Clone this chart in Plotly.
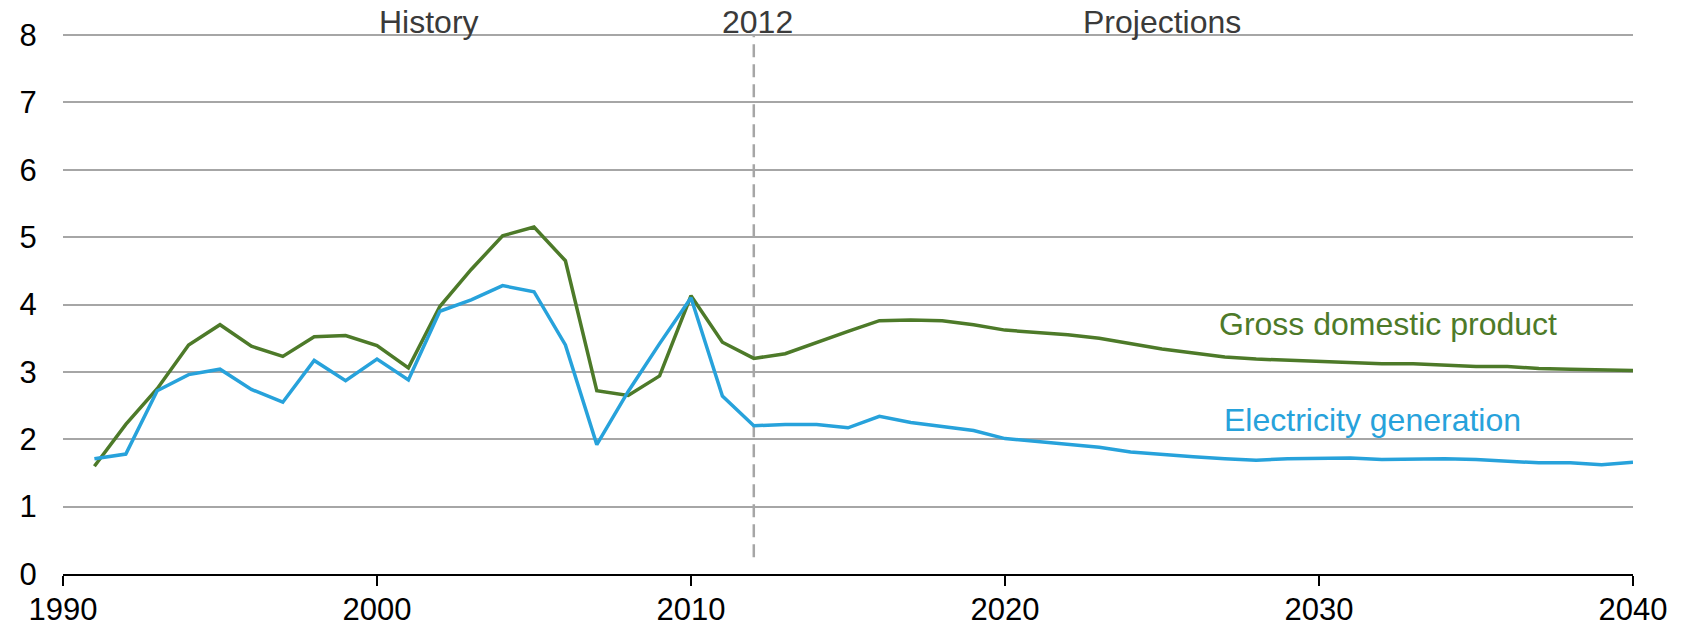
import plotly.graph_objects as go

years = list(range(1991, 2041))
gdp = [1.60, 2.22, 2.75, 3.40, 3.70, 3.38, 3.23, 3.52, 3.54, 3.39,
       3.06, 3.97, 4.52, 5.02, 5.15, 4.65, 2.72, 2.65, 2.94, 4.13,
       3.44, 3.20, 3.27, 3.44, 3.60, 3.76, 3.77, 3.76, 3.70, 3.62,
       3.59, 3.55, 3.50, 3.42, 3.34, 3.28, 3.22, 3.19, 3.17, 3.15,
       3.14, 3.12, 3.12, 3.10, 3.08, 3.08, 3.05, 3.04, 3.03, 3.02]
elec = [1.71, 1.78, 2.72, 2.96, 3.04, 2.74, 2.55, 3.17, 2.87, 3.19,
        2.88, 3.90, 4.07, 4.28, 4.19, 3.40, 1.92, 2.71, 3.42, 4.10,
        2.64, 2.20, 2.22, 2.22, 2.17, 2.34, 2.25, 2.19, 2.13, 2.01,
        1.97, 1.93, 1.88, 1.81, 1.77, 1.74, 1.71, 1.69, 1.71, 1.72,
        1.72, 1.70, 1.71, 1.71, 1.70, 1.68, 1.65, 1.65, 1.62, 1.66]
x_ticks = [1990, 2000, 2010, 2020, 2030, 2040]
y_ticks = [0, 1, 2, 3, 4, 5, 6, 7, 8]

GREEN = "#4d7a29"
BLUE = "#27a2db"
FONT = "Liberation Sans, Arial, sans-serif"

fig = go.Figure()
fig.add_trace(go.Scatter(x=years, y=gdp, mode="lines", name="Gross domestic product",
                         line=dict(color=GREEN, width=3.5)))
fig.add_trace(go.Scatter(x=years, y=elec, mode="lines", name="Electricity generation",
                         line=dict(color=BLUE, width=3.5)))

fig.add_shape(type="line", x0=2012, x1=2012, y0=0.25, y1=8, xref="x", yref="y",
              line=dict(color="#a6a6a6", width=2.5, dash="13px,7px"), layer="below")

ann_font = dict(family=FONT, size=32, color="#3a3a3a")
for label, xv in [("History", 2001.66), ("2012", 2012.13), ("Projections", 2025.0)]:
    fig.add_annotation(x=xv, y=1.021, xref="x", yref="paper", text=label, showarrow=False,
                       font=ann_font, xanchor="center", yanchor="middle")
fig.add_annotation(x=2032.2, y=3.71, text="Gross domestic product", showarrow=False,
                   font=dict(family=FONT, size=32, color=GREEN), xanchor="center", yanchor="middle")
fig.add_annotation(x=2031.7, y=2.29, text="Electricity generation", showarrow=False,
                   font=dict(family=FONT, size=32, color=BLUE), xanchor="center", yanchor="middle")

fig.update_layout(
    width=1684, height=627,
    margin=dict(l=63, r=51, t=33, b=53),
    paper_bgcolor="white", plot_bgcolor="white",
    showlegend=False,
    font=dict(family=FONT, size=31, color="black"),
)
fig.update_xaxes(range=[1990, 2040], tickvals=x_ticks, ticktext=[str(v) for v in x_ticks],
                 automargin=False,
                 showgrid=False, zeroline=False, showline=True, linecolor="black", linewidth=2,
                 ticks="outside", ticklen=10, tickwidth=2, tickcolor="black",
                 ticklabelstandoff=-3,
                 tickfont=dict(family=FONT, size=31, color="black"))
fig.update_yaxes(range=[0, 8.03], tickvals=y_ticks, showgrid=True, gridcolor="#a6a6a6", gridwidth=2,
                 automargin=False,
                 zeroline=False, showline=False, ticks="outside", ticklen=19,
                 tickcolor="rgba(0,0,0,0)", tickfont=dict(family=FONT, size=31, color="black"))

fig.write_html("out.html",
               config={"displayModeBar": False},
               post_script="document.body.style.margin='0';document.body.style.overflow='hidden';")
